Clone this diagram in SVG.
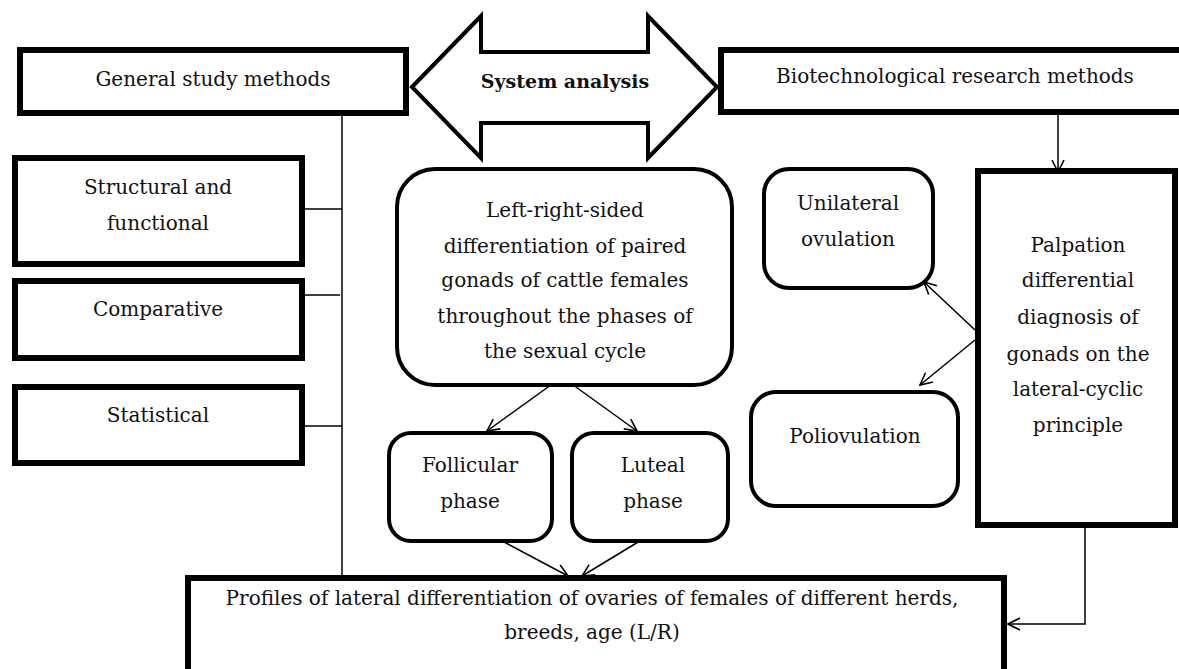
<svg xmlns="http://www.w3.org/2000/svg" width="1179" height="669" viewBox="0 0 1179 669">
<defs>
<marker id="arr" markerUnits="userSpaceOnUse" markerWidth="16" markerHeight="16" viewBox="0 0 16 16" refX="15" refY="8" orient="auto">
<path d="M3,2 L15,8 L3,14" fill="none" stroke="#000" stroke-width="1.6"/>
</marker>
<style>
.t{font-family:"DejaVu Serif","Liberation Serif",serif;font-size:20px;fill:#111;text-anchor:middle}
.b{font-weight:bold;font-size:19px}
.sq{fill:#fff;stroke:#000;stroke-width:6}
.rd{fill:#fff;stroke:#000;stroke-width:4}
.c{fill:none;stroke:#000;stroke-width:1.5}
</style>
</defs>
<rect width="1179" height="669" fill="#fff"/>
<g id="connectors">
<line class="c" x1="342" y1="114" x2="342" y2="576"/>
<line class="c" x1="303" y1="209" x2="342" y2="209"/>
<line class="c" x1="303" y1="295" x2="340" y2="295"/>
<line class="c" x1="303" y1="426" x2="342" y2="426"/>
<line class="c" x1="1058" y1="110" x2="1058" y2="172" marker-end="url(#arr)"/>
<line class="c" x1="975" y1="330" x2="924" y2="282" marker-end="url(#arr)"/>
<line class="c" x1="975" y1="340" x2="920" y2="385" marker-end="url(#arr)"/>
<line class="c" x1="562" y1="377" x2="487" y2="431" marker-end="url(#arr)"/>
<line class="c" x1="562" y1="377" x2="637" y2="431" marker-end="url(#arr)"/>
<line class="c" x1="487" y1="533" x2="568" y2="576" marker-end="url(#arr)"/>
<line class="c" x1="653" y1="533" x2="582" y2="576" marker-end="url(#arr)"/>
<polyline class="c" points="1085,525 1085,624 1008,624" marker-end="url(#arr)"/>
</g>
<g id="system-analysis">
<polygon points="412,87 481,16 481,52 648,52 648,16 717,87 648,158 648,123 481,123 481,158" fill="#fff" stroke="#000" stroke-width="4" stroke-linejoin="miter"/>
<text class="t b" x="565" y="88">System analysis</text>
</g>
<g id="general">
<rect class="sq" x="20" y="50" width="386" height="63"/>
<text class="t" x="213" y="86">General study methods</text>
</g>
<g id="biotech">
<rect class="sq" x="721" y="50" width="470" height="62"/>
<text class="t" x="955" y="83">Biotechnological research methods</text>
</g>
<g id="structural">
<rect class="sq" x="15" y="158" width="287" height="106"/>
<text class="t" x="158" y="194">Structural and</text>
<text class="t" x="158" y="230">functional</text>
</g>
<g id="comparative">
<rect class="sq" x="15" y="281" width="287" height="77"/>
<text class="t" x="158" y="316">Comparative</text>
</g>
<g id="statistical">
<rect class="sq" x="15" y="387" width="287" height="76"/>
<text class="t" x="158" y="422">Statistical</text>
</g>
<g id="left-right">
<rect class="rd" x="397" y="169" width="335" height="216" rx="38"/>
<text class="t" x="565" y="217">Left-right-sided</text>
<text class="t" x="565" y="253">differentiation of paired</text>
<text class="t" x="565" y="287">gonads of cattle females</text>
<text class="t" x="565" y="323">throughout the phases of</text>
<text class="t" x="565" y="358">the sexual cycle</text>
</g>
<g id="unilateral">
<rect class="rd" x="764" y="169" width="169" height="119" rx="25"/>
<text class="t" x="848" y="210">Unilateral</text>
<text class="t" x="848" y="246">ovulation</text>
</g>
<g id="poliovulation">
<rect class="rd" x="751" y="392" width="207" height="114" rx="25"/>
<text class="t" x="855" y="443">Poliovulation</text>
</g>
<g id="palpation">
<rect class="sq" x="978" y="171" width="197" height="354"/>
<text class="t" x="1078" y="252">Palpation</text>
<text class="t" x="1078" y="287">differential</text>
<text class="t" x="1078" y="324">diagnosis of</text>
<text class="t" x="1078" y="361">gonads on the</text>
<text class="t" x="1078" y="396">lateral-cyclic</text>
<text class="t" x="1078" y="432">principle</text>
</g>
<g id="follicular">
<rect class="rd" x="389" y="433" width="163" height="108" rx="22"/>
<text class="t" x="470" y="472">Follicular</text>
<text class="t" x="470" y="508">phase</text>
</g>
<g id="luteal">
<rect class="rd" x="572" y="433" width="156" height="108" rx="22"/>
<text class="t" x="653" y="472">Luteal</text>
<text class="t" x="653" y="508">phase</text>
</g>
<g id="profiles">
<rect class="sq" x="188" y="578" width="816" height="100"/>
<text class="t" x="592" y="605">Profiles of lateral differentiation of ovaries of females of different herds,</text>
<text class="t" x="592" y="639">breeds, age (L/R)</text>
</g>
</svg>
